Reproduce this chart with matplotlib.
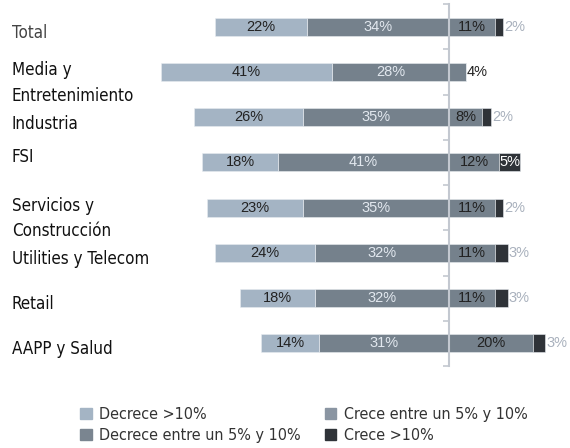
import numpy as np
import matplotlib
matplotlib.use('Agg')
import matplotlib.pyplot as plt
import matplotlib.transforms as mtrans
from matplotlib.patches import Patch
from matplotlib.font_manager import FontProperties

# data
categories = ['Total', 'Media y\nEntretenimiento', 'Industria', 'FSI',
              'Servicios y\nConstrucción', 'Utilities y Telecom', 'Retail', 'AAPP y Salud']
dec_gt10 = [22, 41, 26, 18, 23, 24, 18, 14]
dec_5_10 = [34, 28, 35, 41, 35, 32, 32, 31]
cre_5_10 = [11, 4, 8, 12, 11, 11, 11, 20]
cre_gt10 = [2, 0, 2, 5, 2, 3, 3, 3]
legend_labels = ['Decrece >10%', 'Decrece entre un 5% y 10%',
                 'Crece entre un 5% y 10%', 'Crece >10%']

# styles
c_light = '#a4b4c4'
c_mid = '#75818c'
c_dark = '#2f3338'
lab_dy = [0.13, 0.24, 0.15, -0.11, 0.24, 0.13, 0.13, 0.13]
cat_font = FontProperties(family='DejaVu Sans', stretch='condensed', size=12.2)
leg_font = FontProperties(family='DejaVu Sans', stretch='condensed', size=11.5)

fig = plt.figure(figsize=(5.7, 4.48), dpi=100)
ax = fig.add_axes([0.272, 0.183, 0.728, 0.808])

y = np.arange(len(categories))
h = 0.40
d1 = np.array(dec_gt10)
d2 = np.array(dec_5_10)
c1 = np.array(cre_5_10)
c2 = np.array(cre_gt10)

ax.barh(y, -d2, height=h, color=c_mid, edgecolor='#e8ecf0', linewidth=0.4)
ax.barh(y, -d1, left=-d2, height=h, color=c_light, edgecolor='#e8ecf0', linewidth=0.4)
ax.barh(y, c1, height=h, color=c_mid, edgecolor='#e8ecf0', linewidth=0.4)
ax.barh(y, c2, left=c1, height=h, color=c_dark, edgecolor='#e8ecf0', linewidth=0.4)

fs = 10.5
for i in range(len(categories)):
    ax.text(-d2[i] - d1[i] / 2, y[i], '%d%%' % d1[i], ha='center', va='center',
            fontsize=fs, color='#222222', family='Liberation Sans')
    ax.text(-d2[i] / 2, y[i], '%d%%' % d2[i], ha='center', va='center',
            fontsize=fs, color='#e2e8ef', family='Liberation Sans')
    if c1[i] < 6:
        ax.text(c1[i] + 0.1, y[i], '%d%%' % c1[i], ha='left', va='center',
                fontsize=fs, color='#222222', family='Liberation Sans')
    else:
        ax.text(c1[i] / 2, y[i], '%d%%' % c1[i], ha='center', va='center',
                fontsize=fs, color='#222222', family='Liberation Sans')
    if c2[i] >= 5:
        ax.text(c1[i] + c2[i] / 2, y[i], '%d%%' % c2[i], ha='center', va='center',
                fontsize=fs, color='white', family='Liberation Sans')
    elif c2[i] > 0:
        ax.text(c1[i] + c2[i] + 0.3, y[i], '%d%%' % c2[i], ha='left', va='center',
                fontsize=fs, color='#a9b1bd', family='Liberation Sans')

# category labels at the far left
tr = mtrans.blended_transform_factory(fig.transFigure, ax.transData)
for i, cat in enumerate(categories):
    ax.text(0.021, y[i] + lab_dy[i], cat, transform=tr, ha='left', va='center',
            fontproperties=cat_font, color='#444444' if i == 0 else '#111111',
            linespacing=1.55)

ax.set_ylim(len(categories) - 0.5, -0.5)
ax.set_xlim(-70.33, 28.95)
for s in ['top', 'right', 'bottom']:
    ax.spines[s].set_visible(False)
ax.spines['left'].set_position(('data', 0))
ax.spines['left'].set_color('#c3c8d0')
ax.spines['left'].set_linewidth(1.5)
ax.set_xticks([])
ax.set_yticks(np.arange(len(categories) + 1) - 0.5)
ax.set_yticklabels([])
ax.tick_params(axis='y', direction='out', length=4, width=1.2, color='#c3c8d0')
ax.patch.set_visible(False)

handles = [Patch(color=c_light), Patch(color='#7a8590'),
           Patch(color='#8a95a2'), Patch(color=c_dark)]
fig.legend(handles, legend_labels, ncol=2, loc='lower left',
           bbox_to_anchor=(0.116, -0.022), frameon=False, prop=leg_font,
           handlelength=0.7, handleheight=0.7, handletextpad=0.45,
           columnspacing=1.55, labelspacing=0.42, labelcolor='#333333')

plt.savefig('out.png', dpi=100)
